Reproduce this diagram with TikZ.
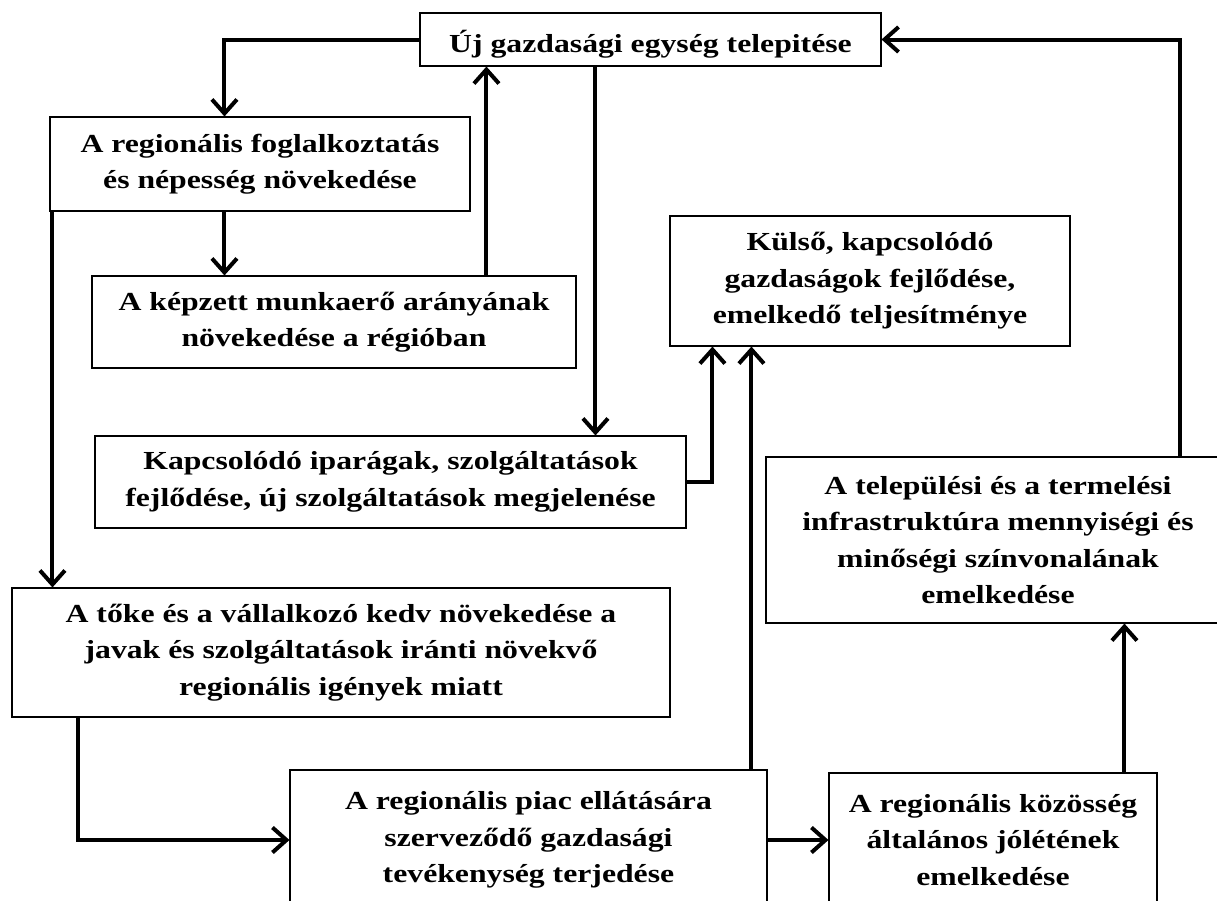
\documentclass[tikz,border=0pt]{standalone}
\usepackage{fontspec}
\setmainfont{Liberation Serif}[FakeStretch=1.22]
\usetikzlibrary{arrows.meta}

\begin{document}
\begin{tikzpicture}[x=1pt, y=-1pt]
        \tikzstyle{every node}=[draw, line width=1.1pt, align=center, inner sep=2pt, font=\bfseries\fontsize{26}{36.5}\selectfont, execute at begin node={\rule{0pt}{32pt}}]
        \tikzstyle{flow}=[line width=4pt, -{Straight Barb[length=14pt,width=25pt]}]
        \useasboundingbox (0,0) rectangle (1217,900);
        % boxes
        \node[minimum width=461pt, minimum height=53pt] (uj) at (650.5,39.5) {Új gazdasági egység telepitése};
        \node[minimum width=420pt, minimum height=94pt] (fogl) at (260,164) {A regionális foglalkoztatás\\és népesség növekedése};
        \node[minimum width=484pt, minimum height=92pt] (kepz) at (334,322) {A képzett munkaerő arányának\\növekedése a régióban};
        \node[minimum width=400pt, minimum height=130pt] (kulso) at (870,281) {Külső, kapcsolódó\\gazdaságok fejlődése,\\emelkedő teljesítménye};
        \node[minimum width=591pt, minimum height=92pt] (kapcs) at (390.5,482) {Kapcsolódó iparágak, szolgáltatások\\fejlődése, új szolgáltatások megjelenése};
        \node[minimum width=464pt, minimum height=166pt] (infra) at (998,540) {A települési és a termelési\\infrastruktúra mennyiségi és\\minőségi színvonalának\\emelkedése};
        \node[minimum width=658pt, minimum height=129pt] (toke) at (341,652.5) {A tőke és a vállalkozó kedv növekedése a\\javak és szolgáltatások iránti növekvő\\regionális igények miatt};
        \node[minimum width=477pt, minimum height=140pt] (piac) at (528.5,840) {A regionális piac ellátására\\szerveződő gazdasági\\tevékenység terjedése};
        \node[minimum width=328pt, minimum height=134pt] (jolet) at (993,840) {A regionális közösség\\általános jólétének\\emelkedése};
        % connectors
        \draw[flow] (uj.west) -| ([xshift=175pt]fogl.north west);
        \draw[flow] ([xshift=175pt]fogl.south west) -- ([xshift=133pt]kepz.north west);
        \draw[flow] ([xshift=3pt]fogl.south west) -- ([xshift=41pt]toke.north west);
        \draw[flow] ([xshift=395pt]kepz.north west) -- ([xshift=67pt]uj.south west);
        \draw[flow] ([xshift=176pt]uj.south west) -- ([xshift=501pt]kapcs.north west);
        \draw[flow] (kapcs.east) -| ([xshift=43pt]kulso.south west);
        \draw[flow] ([xshift=462pt]piac.north west) -- ([xshift=82pt]kulso.south west);
        \draw[flow] ([xshift=415pt]infra.north west) |- (uj.east);
        \draw[flow] ([xshift=67pt]toke.south west) |- (piac.west);
        \draw[flow] (piac.east) -- (jolet.west);
        \draw[flow] ([xshift=296pt]jolet.north west) -- ([xshift=359pt]infra.south west);
\end{tikzpicture}
\end{document}
